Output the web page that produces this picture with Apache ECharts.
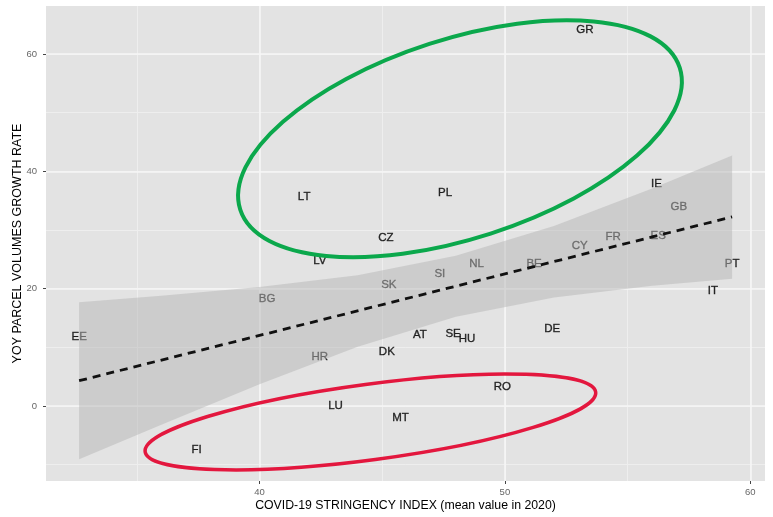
<!DOCTYPE html>
<html>
<head>
<meta charset="utf-8">
<script src="https://cdn.jsdelivr.net/npm/echarts@6/dist/echarts.min.js"></script>
<style>
html,body{margin:0;padding:0;background:#fff;}
#chart{width:773px;height:517px;}
</style>
</head>
<body>
<div id="chart"></div>
<script>
// Country labels (placed at their points)
const countries = ['GR','IE','GB','ES','FR','CY','PL','CZ','LT','LV','BG','EE','HR','SK','SI','NL','BE','PT','IT','DE','AT','SE','HU','DK','RO','MT','LU','FI'];
const stringency = [53.26,56.18,57.09,56.25,54.41,53.05,47.56,45.15,41.82,42.46,40.31,32.65,42.46,45.27,47.35,48.85,51.19,59.26,58.48,51.93,46.54,47.89,48.46,45.19,49.90,45.75,43.10,37.44];
const growthRate = [64.2,37.8,33.9,29.0,28.8,27.3,36.3,28.6,35.7,24.8,18.2,11.8,8.3,20.6,22.6,24.3,24.3,24.2,19.6,13.2,12.1,12.3,11.5,9.2,3.2,-2.1,0.0,-7.5];

// Linear fit (dashed) end points
const fitX = [32.65, 59.26];
const fitY = [4.3, 32.24];

// Confidence ribbon
const ribbonX = [32.65, 36, 40, 44, 48, 52, 56, 59.26];
const ribbonUpper = [17.7, 18.8, 20.3, 22.3, 25.6, 30.7, 37.1, 42.7];
const ribbonLower = [-9.1, -3.2, 3.7, 10.1, 15.2, 18.5, 20.5, 21.7];

// Hand-drawn ellipses: centre (data units), half axes (x units, y units), tilt in degrees
const ellipseCX = [48.17, 44.52];
const ellipseCY = [45.57, -2.73];
const ellipseRX = [9.41, 9.26];
const ellipseRY = [17.0, 6.46];
const ellipseTilt = [17.9, 7.54];
const ellipseColors = ['#0ba84c', '#e3173e'];
const ellipseWidths = [4, 3.5];

// Tick labels
const xTicks = [40, 50, 60];
const yTicks = [0, 20, 40, 60];

const chart = echarts.init(document.getElementById('chart'), null, {renderer: 'canvas'});
const FONT = 'Liberation Sans';

const labelData = countries.map((c, i) => ({name: c, value: [stringency[i], growthRate[i]]}));
const fitData = fitX.map((x, i) => [x, fitY[i]]);
const ribbonData = ribbonX.map((x, i) => [x, ribbonLower[i], ribbonUpper[i]]);
const ellipseData = ellipseCX.map((x, i) => [x, ellipseCY[i], ellipseRX[i], ellipseRY[i], ellipseTilt[i]]);

const XMIN = 31.3, XMAX = 60.6, YMIN = -12.8, YMAX = 68.2;

const option = {
  animation: false,
  backgroundColor: '#ffffff',
  grid: {left: 46, right: 8, top: 6, bottom: 36, show: true, backgroundColor: '#e3e3e3', borderWidth: 0, outerBoundsMode: 'none', containLabel: false},
  xAxis: [
    {
      type: 'value', min: XMIN, max: XMAX, minInterval: 10, maxInterval: 10,
      name: 'COVID-19 STRINGENCY INDEX (mean value in 2020)',
      nameLocation: 'middle', nameGap: 19, nameMoveOverlap: false,
      nameTextStyle: {fontFamily: FONT, fontSize: 12.3, color: '#000'},
      axisLine: {show: false, onZero: false},
      axisTick: {show: true, length: 3, lineStyle: {color: '#444'}, customValues: xTicks},
      axisLabel: {show: true, margin: 6, fontFamily: FONT, fontSize: 9.5, color: '#666', customValues: xTicks},
      splitLine: {show: true, lineStyle: {color: '#f6f6f6', width: 1.6}},
      z: 3
    },
    {
      type: 'value', min: XMIN, max: XMAX, minInterval: 5, maxInterval: 5,
      axisLine: {show: false, onZero: false}, axisTick: {show: false}, axisLabel: {show: false},
      splitLine: {show: true, showMinLine: false, showMaxLine: false, lineStyle: {color: '#eeeeee', width: 1}},
      z: 2
    }
  ],
  yAxis: [
    {
      type: 'value', min: YMIN, max: YMAX, minInterval: 20, maxInterval: 20,
      name: 'YOY PARCEL VOLUMES GROWTH RATE',
      nameLocation: 'middle', nameGap: 22, nameMoveOverlap: false,
      nameTextStyle: {fontFamily: FONT, fontSize: 12.5, color: '#000'},
      axisLine: {show: false, onZero: false},
      axisTick: {show: true, length: 3, lineStyle: {color: '#444'}, customValues: yTicks},
      axisLabel: {show: true, margin: 9, fontFamily: FONT, fontSize: 9.5, color: '#666', customValues: yTicks},
      splitLine: {show: true, lineStyle: {color: '#f6f6f6', width: 1.6}},
      z: 3
    },
    {
      type: 'value', min: YMIN, max: YMAX, minInterval: 10, maxInterval: 10,
      axisLine: {show: false, onZero: false}, axisTick: {show: false}, axisLabel: {show: false},
      splitLine: {show: true, showMinLine: false, showMaxLine: false, lineStyle: {color: '#eeeeee', width: 1}},
      z: 2
    }
  ],
  series: [
    {
      type: 'scatter', name: 'labels', z: 5,
      xAxisIndex: 0, yAxisIndex: 0,
      symbolSize: 1,
      itemStyle: {color: 'transparent'},
      label: {
        show: true, position: 'inside', formatter: p => p.name,
        fontFamily: FONT, fontSize: 11.5, color: '#000',
        textBorderColor: '#000', textBorderWidth: 0.35
      },
      emphasis: {disabled: true},
      data: labelData
    },
    {
      type: 'custom', name: 'ribbon', z: 6,
      xAxisIndex: 0, yAxisIndex: 0,
      silent: true,
      data: ribbonData,
      renderItem: function (params, api) {
        if (params.dataIndex !== 0) return null;
        const pts = [];
        for (let i = 0; i < ribbonData.length; i++) pts.push(api.coord([ribbonData[i][0], ribbonData[i][2]]));
        for (let i = ribbonData.length - 1; i >= 0; i--) pts.push(api.coord([ribbonData[i][0], ribbonData[i][1]]));
        return {type: 'polygon', shape: {points: pts}, style: {fill: 'rgba(182,182,182,0.5)'}};
      }
    },
    {
      type: 'line', name: 'fit', z: 7,
      xAxisIndex: 0, yAxisIndex: 0,
      symbol: 'none', silent: true,
      lineStyle: {color: '#111', width: 2.8, type: [8, 6]},
      data: fitData
    },
    {
      type: 'custom', name: 'ellipses', z: 8,
      xAxisIndex: 0, yAxisIndex: 0,
      silent: true,
      data: ellipseData,
      renderItem: function (params, api) {
        const c = api.coord([api.value(0), api.value(1)]);
        const a = api.size([api.value(2), 0])[0];
        const b = api.size([0, api.value(3)])[1];
        return {
          type: 'ellipse',
          x: c[0], y: c[1],
          rotation: api.value(4) * Math.PI / 180,
          shape: {cx: 0, cy: 0, rx: a, ry: b},
          style: {fill: 'none', stroke: ellipseColors[params.dataIndex], lineWidth: ellipseWidths[params.dataIndex]}
        };
      }
    }
  ]
};
chart.setOption(option);
</script>
</body>
</html>
